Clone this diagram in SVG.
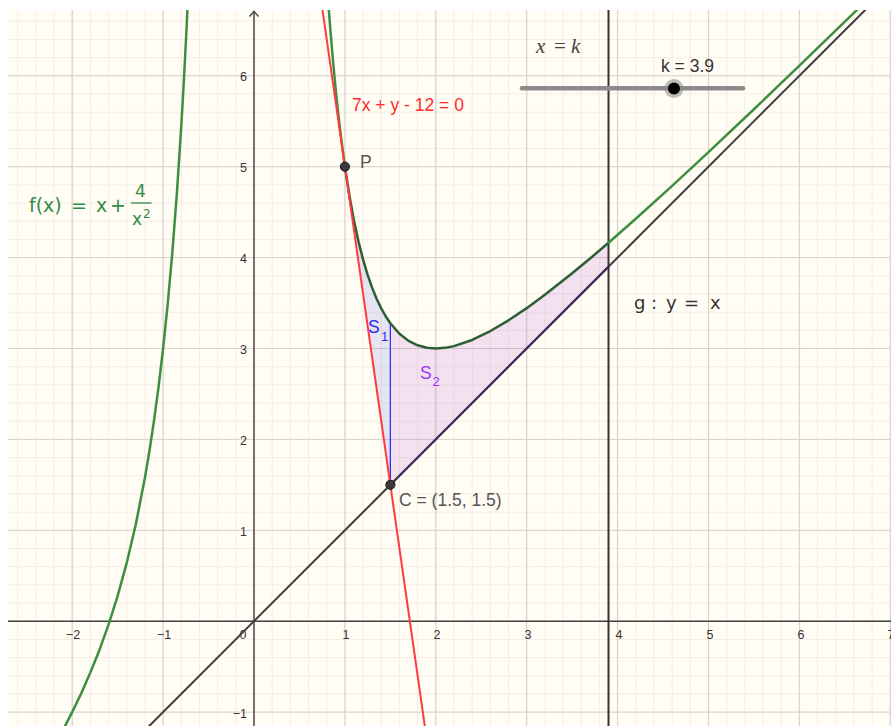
<svg xmlns="http://www.w3.org/2000/svg" width="891" height="726" viewBox="0 0 891 726">
<style>
.ax{stroke:#444;stroke-width:1.4;fill:none}
.ynum{font-family:"Liberation Sans",Arial,sans-serif;font-size:12.5px;fill:#333;text-anchor:end}
.xnum{font-family:"Liberation Sans",Arial,sans-serif;font-size:12.5px;fill:#333;text-anchor:middle}
.lbl{font-family:"Liberation Sans",Arial,sans-serif;font-size:17.5px;fill:#555}
.fm{font-family:"DejaVu Sans",sans-serif;font-size:19px;fill:#2f8a45}
.gm{font-family:"DejaVu Sans",sans-serif;font-size:18px;fill:#333}
.ser{font-family:"Liberation Serif",serif;font-style:italic;font-size:21px;fill:#444}
.ns{vector-effect:non-scaling-stroke;fill:none;stroke-linejoin:round;stroke-linecap:round}
.pt{fill:#3a3a3a;stroke:#1a1a1a;stroke-width:1}
</style>
<defs>
<pattern id="minor" patternUnits="userSpaceOnUse" x="244.91" y="612.11" width="18.18" height="18.18">
<path d="M9.09 0V18.18M0 9.09H18.18" stroke="#f6ebe6" stroke-width="1" fill="none"/>
</pattern>
<pattern id="major" patternUnits="userSpaceOnUse" x="208.55" y="575.75" width="90.9" height="90.9">
<path d="M45.45 0V90.9M0 45.45H90.9" stroke="#d6d2cc" stroke-width="1.2" fill="none"/>
</pattern>
<clipPath id="plot"><rect x="8" y="10" width="883" height="716"/></clipPath>
</defs>
<rect width="891" height="726" fill="#ffffff"/>
<g id="grid">
<rect x="8" y="10" width="883" height="716" fill="#fffdf4"/>
<rect x="8" y="10" width="883" height="716" fill="url(#minor)"/>
<rect x="8" y="10" width="883" height="716" fill="url(#major)"/>
</g>
<g id="axes">
<line class="ax" x1="8" y1="621.2" x2="891" y2="621.2"/>
<line class="ax" x1="254" y1="11" x2="254" y2="726"/>
<path class="ax" d="M249.5 16.5L254 11.5L258.5 16.5"/>
<text class="xnum" x="73" y="639">−2</text>
<text class="xnum" x="164" y="639">−1</text>
<text class="xnum" x="243" y="639">0</text>
<text class="xnum" x="346" y="639">1</text>
<text class="xnum" x="437" y="639">2</text>
<text class="xnum" x="528" y="639">3</text>
<text class="xnum" x="619" y="639">4</text>
<text class="xnum" x="710" y="639">5</text>
<text class="xnum" x="801" y="639">6</text>
<text class="xnum" x="891" y="639">7</text>
<text class="ynum" x="247" y="81.3">6</text>
<text class="ynum" x="247" y="172.2">5</text>
<text class="ynum" x="247" y="263.1">4</text>
<text class="ynum" x="247" y="354">3</text>
<text class="ynum" x="247" y="444.9">2</text>
<text class="ynum" x="247" y="535.8">1</text>
<text class="ynum" x="247" y="717.6">−1</text>
</g>
<g clip-path="url(#plot)">
<g transform="translate(254 621.2) scale(90.9 -90.9)">
<g id="regions">
<polygon id="S1" fill="#4040e0" fill-opacity="0.13" points="1,5 1.05,4.678 1.1,4.406 1.15,4.175 1.2,3.978 1.25,3.81 1.3,3.667 1.35,3.545 1.4,3.441 1.45,3.352 1.5,3.278 1.5,1.5"/>
<polygon id="S2" fill="#b040e0" fill-opacity="0.15" points="1.5,3.278 1.6,3.1625 1.7,3.084 1.8,3.035 1.9,3.008 2,3 2.1,3.007 2.2,3.026 2.4,3.094 2.6,3.192 2.8,3.31 3,3.444 3.2,3.591 3.5,3.827 3.7,3.992 3.9,4.163 3.9,3.9 1.5,1.5"/>
</g>
<g id="connectors">
<line id="xk" class="ns" x1="3.9" y1="-2" x2="3.9" y2="8" stroke="#333" stroke-width="2"/>
<line id="g" class="ns" x1="-1.4" y1="-1.4" x2="7.2" y2="7.2" stroke="#3c3c3c" stroke-width="2"/>
<line id="gS2" class="ns" x1="1.5" y1="1.5" x2="3.9" y2="3.9" stroke="#3b2a5c" stroke-width="2"/>
<line id="S1edge" class="ns" x1="1.5" y1="1.5" x2="1.5" y2="3.278" stroke="#3030ff" stroke-width="1.3"/>
<polyline id="fleft" class="ns" stroke="#3d8f40" stroke-width="2.5" points="-0.7,7.463 -0.72,6.996 -0.74,6.565 -0.76,6.165 -0.78,5.795 -0.8,5.45 -0.85,4.686 -0.9,4.038 -0.95,3.482 -1,3 -1.05,2.578 -1.1,2.206 -1.15,1.875 -1.2,1.578 -1.3,1.067 -1.4,0.641 -1.5,0.278 -1.6,-0.0375 -1.7,-0.316 -1.8,-0.565 -1.9,-0.792 -2,-1 -2.1,-1.193 -2.2,-1.374"/>
<polyline id="fright1" class="ns" stroke="#3d8f40" stroke-width="2.5" points="0.8,7.05 0.82,6.769 0.84,6.509 0.86,6.268 0.88,6.045 0.9,5.838 0.92,5.646 0.95,5.382 1,5"/>
<polyline id="fright2" class="ns" stroke="#2a5e33" stroke-width="2.5" points="1,5 1.05,4.678 1.1,4.406 1.15,4.175 1.2,3.978 1.25,3.81 1.3,3.667 1.35,3.545 1.4,3.441 1.45,3.352 1.5,3.278 1.6,3.1625 1.7,3.084 1.8,3.035 1.9,3.008 2,3 2.1,3.007 2.2,3.026 2.4,3.094 2.6,3.192 2.8,3.31 3,3.444 3.2,3.591 3.5,3.827 3.7,3.992 3.9,4.163"/>
<polyline id="fright3" class="ns" stroke="#3d8f40" stroke-width="2.5" points="3.9,4.163 4.2,4.427 4.6,4.789 5,5.16 5.5,5.632 6,6.111 6.5,6.595 7,7.082 7.2,7.277"/>
<line id="tangent" class="ns" x1="0.7" y1="7.1" x2="1.9" y2="-1.3" stroke="#ff3b3b" stroke-width="2"/>
</g>
</g>
</g>
<g id="slider">
<line x1="522" y1="88.3" x2="743" y2="88.3" stroke="#8a8a8a" stroke-width="4.5" stroke-linecap="round"/>
<circle cx="674" cy="88.5" r="9.5" fill="#888" fill-opacity="0.55"/>
<circle cx="674" cy="88.5" r="6" fill="#000"/>
<text class="lbl" x="661" y="72" style="fill:#333">k = 3.9</text>
</g>
<g id="P"><circle class="pt" cx="344.9" cy="166.7" r="4.6"/><text class="lbl" x="360" y="167.5">P</text></g>
<g id="C"><circle class="pt" cx="390.4" cy="484.8" r="4.6"/><text class="lbl" x="399" y="505.5">C = (1.5, 1.5)</text></g>
<g id="labels">
<text class="lbl" x="352" y="111" style="fill:#ff2a2a">7x + y - 12 = 0</text>
<text class="ser" x="536" y="52.5">x</text>
<text class="ser" x="554" y="52.5" style="font-style:normal">=</text>
<text class="ser" x="571" y="52.5">k</text>
<text class="gm" x="634" y="309">g</text>
<text class="gm" x="651" y="309">:</text>
<text class="gm" x="666" y="309">y</text>
<text class="gm" x="684" y="309">=</text>
<text class="gm" x="710" y="309">x</text>
<text class="lbl" x="368" y="333" style="fill:#2828ee">S</text>
<text class="lbl" x="381" y="340.5" style="fill:#2828ee;font-size:13px">1</text>
<text class="lbl" x="420" y="379" style="fill:#9933ff">S</text>
<text class="lbl" x="432.5" y="385.5" style="fill:#9933ff;font-size:13px">2</text>
<g id="flabel">
<text class="fm" x="29" y="211.5">f(x)</text>
<text class="fm" x="71" y="211.5">=</text>
<text class="fm" x="96" y="211.5">x</text>
<text class="fm" x="110" y="211.5">+</text>
<text class="fm" x="140.5" y="197" text-anchor="middle" style="font-size:17px">4</text>
<line x1="131" y1="203" x2="151.5" y2="203" stroke="#2f8a45" stroke-width="1.3"/>
<text class="fm" x="132" y="224.5" style="font-size:17px">x</text>
<text class="fm" x="143" y="217.5" style="font-size:12px">2</text>
</g>
</g>
</svg>
